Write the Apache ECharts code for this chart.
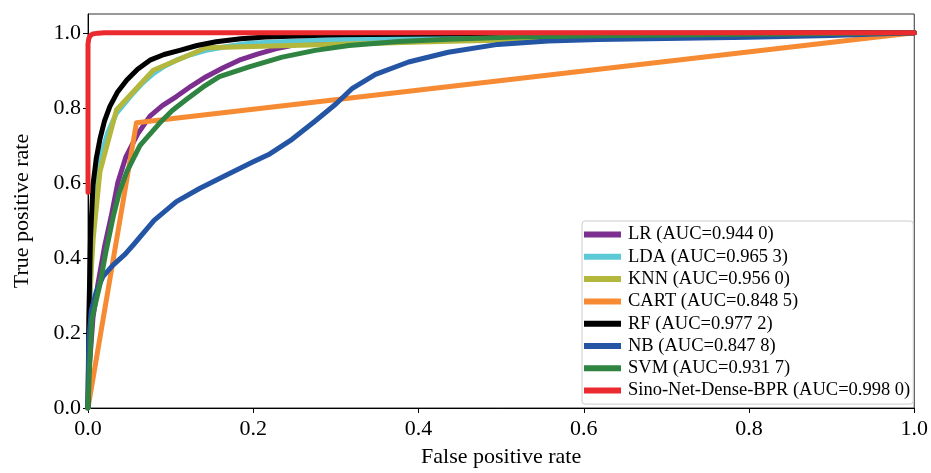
<!DOCTYPE html>
<html>
<head>
<meta charset="utf-8">
<script src="https://cdn.jsdelivr.net/npm/echarts@6/dist/echarts.min.js"></script>
<style>
  html, body { margin: 0; padding: 0; background: #fff; }
  #main { width: 931px; height: 473px; }
</style>
</head>
<body>
<div id="main"></div>
<script>
// ROC curve points [FPR, TPR]
var lrData = [[0,0],[0.002,0.12],[0.006,0.24],[0.012,0.33],[0.02,0.43],[0.028,0.51],[0.036,0.6],[0.046,0.67],[0.06,0.73],[0.075,0.778],[0.09,0.806],[0.107,0.83],[0.125,0.858],[0.143,0.883],[0.163,0.906],[0.183,0.927],[0.205,0.943],[0.227,0.957],[0.255,0.97],[0.3,0.982],[0.4,0.99],[0.6,0.996],[1,1]];
var ldaData = [[0,0],[0.002,0.25],[0.005,0.45],[0.009,0.56],[0.0145,0.664],[0.024,0.735],[0.0346,0.786],[0.0546,0.839],[0.066,0.866],[0.079,0.891],[0.092,0.91],[0.107,0.927],[0.125,0.942],[0.143,0.953],[0.17,0.964],[0.195,0.972],[0.28,0.981],[0.45,0.988],[0.7,0.995],[1,1]];
var knnData = [[0,0],[0.002,0.3],[0.0064,0.454],[0.0145,0.63],[0.0346,0.795],[0.079,0.9],[0.143,0.96],[0.45,0.978],[1,1]];
var cartData = [[0,0],[0.0586,0.76],[1,1]];
var rfData = [[0,0],[0.001,0.24],[0.003,0.45],[0.006,0.594],[0.01,0.665],[0.0145,0.717],[0.02,0.765],[0.0265,0.804],[0.036,0.843],[0.047,0.874],[0.06,0.903],[0.075,0.927],[0.092,0.942],[0.111,0.953],[0.132,0.966],[0.155,0.976],[0.185,0.984],[0.215,0.989],[0.3,0.995],[0.5,0.998],[1,1]];
var nbData = [[0,0],[0.001,0.18],[0.004,0.26],[0.01,0.31],[0.018,0.35],[0.03,0.38],[0.045,0.41],[0.055,0.435],[0.08,0.5],[0.107,0.55],[0.135,0.585],[0.167,0.62],[0.2,0.656],[0.22,0.677],[0.247,0.716],[0.275,0.765],[0.3,0.81],[0.32,0.852],[0.348,0.889],[0.388,0.922],[0.436,0.948],[0.496,0.969],[0.557,0.978],[0.617,0.982],[0.7,0.985],[0.8,0.988],[0.9,0.993],[1,1]];
var svmData = [[0,0],[0.002,0.12],[0.005,0.24],[0.0145,0.33],[0.022,0.42],[0.0305,0.51],[0.038,0.575],[0.047,0.63],[0.063,0.7],[0.087,0.76],[0.102,0.793],[0.119,0.822],[0.139,0.855],[0.159,0.883],[0.195,0.909],[0.235,0.935],[0.275,0.953],[0.316,0.966],[0.376,0.977],[0.436,0.983],[0.516,0.989],[0.617,0.992],[0.8,0.996],[1,1]];
var sinoData = [[0,0.575],[0,0.97],[0.001,0.985],[0.003,0.993],[0.006,0.997],[0.012,0.999],[0.02,1.0],[1,1.0]];

var seriesNames = ['LR (AUC=0.944 0)', 'LDA (AUC=0.965 3)', 'KNN (AUC=0.956 0)', 'CART (AUC=0.848 5)',
                   'RF (AUC=0.977 2)', 'NB (AUC=0.847 8)', 'SVM (AUC=0.931 7)', 'Sino-Net-Dense-BPR (AUC=0.998 0)'];
var seriesData = [lrData, ldaData, knnData, cartData, rfData, nbData, svmData, sinoData];
var seriesColors = ['#7d2f8f', '#5cc9d6', '#b3b83c', '#f68b34', '#000000', '#2455a5', '#2e8440', '#ea2a2f'];

var xTicks = [0, 0.2, 0.4, 0.6, 0.8, 1.0];
var yTicks = [0, 0.2, 0.4, 0.6, 0.8, 1.0];

var font = "'Liberation Serif', 'DejaVu Serif', serif";

var chart = echarts.init(document.getElementById('main'));

var series = [];
for (var i = 0; i < seriesNames.length; i++) {
    series.push({
        name: seriesNames[i],
        type: 'line',
        data: seriesData[i],
        showSymbol: false,
        color: seriesColors[i],
        lineStyle: { width: 5, color: seriesColors[i], join: 'round', cap: 'round' },
        animation: false
    });
}

var option = {
    backgroundColor: '#fff',
    animation: false,
    grid: {
        left: 88,
        right: 13,
        top: 14,
        bottom: 60,
        show: true,
        borderColor: '#333',
        borderWidth: 1
    },
    legend: {
        orient: 'vertical',
        left: 582,
        top: 221,
        padding: [4, 3, 4, 2],
        itemWidth: 37,
        itemHeight: 6,
        itemGap: 3.3,
        icon: 'rect',
        backgroundColor: '#fff',
        borderColor: '#ccc',
        borderWidth: 1,
        borderRadius: 3,
        textStyle: { fontFamily: font, fontSize: 18.5, color: '#000', lineHeight: 18, padding: [0, 0, 0, 2] },
        data: seriesNames
    },
    xAxis: {
        type: 'value',
        min: 0,
        max: 1,
        interval: 0.2,
        name: 'False positive rate',
        nameLocation: 'middle',
        nameGap: 38,
        nameTextStyle: { fontFamily: font, fontSize: 22, color: '#000' },
        axisLine: { lineStyle: { color: '#000', width: 1 } },
        axisTick: { show: true, length: 5, customValues: xTicks, lineStyle: { color: '#000' } },
        axisLabel: {
            fontFamily: font, fontSize: 22, color: '#000', margin: 10,
            customValues: xTicks,
            formatter: function (v) { return v.toFixed(1); }
        },
        splitLine: { show: false }
    },
    yAxis: {
        type: 'value',
        min: 0,
        max: 1.05,
        interval: 0.2,
        name: 'True positive rate',
        nameLocation: 'middle',
        nameGap: 55,
        nameTextStyle: { fontFamily: font, fontSize: 22, color: '#000' },
        axisLine: { lineStyle: { color: '#000', width: 1 } },
        axisTick: { show: true, length: 5, customValues: yTicks, lineStyle: { color: '#000' } },
        axisLabel: {
            fontFamily: font, fontSize: 22, color: '#000', margin: 7,
            customValues: yTicks,
            formatter: function (v) { return v.toFixed(1); }
        },
        splitLine: { show: false }
    },
    series: series
};

chart.setOption(option);
</script>
</body>
</html>
